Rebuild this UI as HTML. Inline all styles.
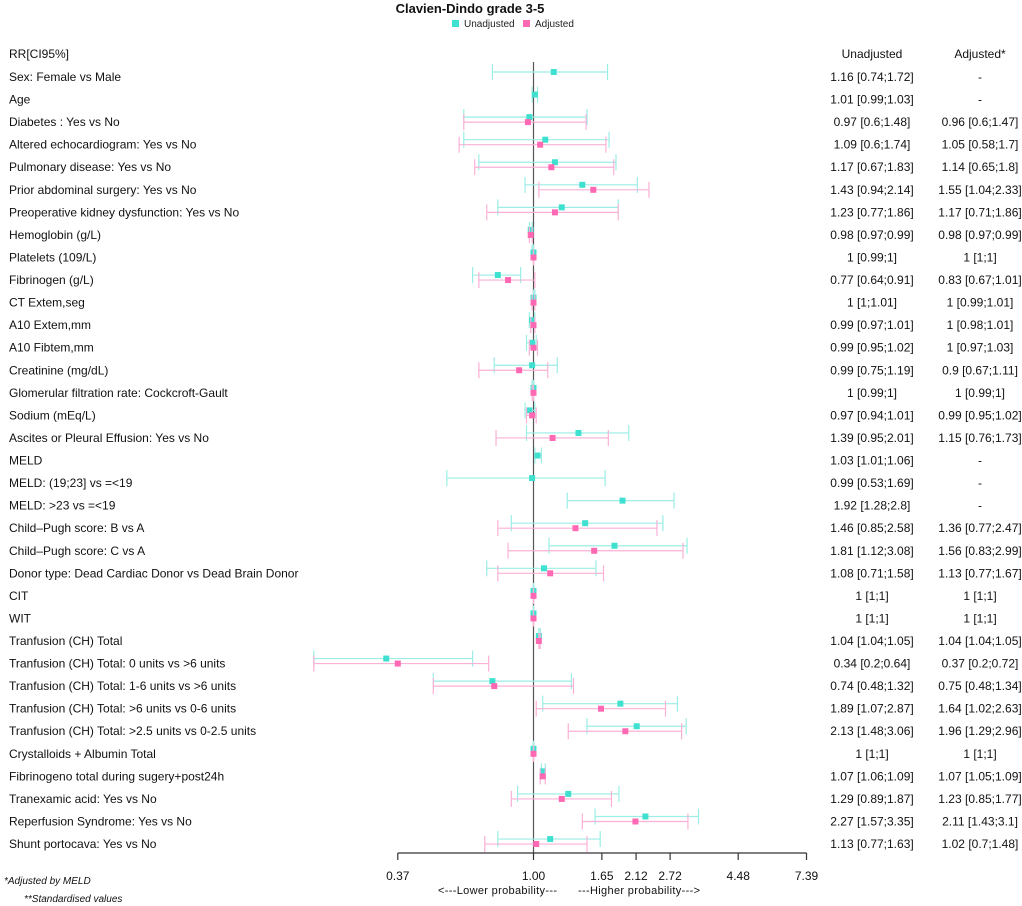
<!DOCTYPE html>
<html><head><meta charset="utf-8">
<style>
body{margin:0;background:#fff;}
svg{display:block;font-family:"Liberation Sans",Arial,sans-serif;}
</style></head>
<body>
<svg id="chart" width="1022" height="906" viewBox="0 0 1022 906">
<text x="470" y="13" text-anchor="middle" font-size="13" font-weight="bold" fill="#111">Clavien-Dindo grade 3-5</text>
<g>
<rect x="452" y="20" width="7" height="7" fill="#40E0D0"/>
<text x="464" y="27" font-size="10" fill="#222">Unadjusted</text>
<rect x="523" y="20" width="7" height="7" fill="#FF69B4"/>
<text x="535" y="27" font-size="10" fill="#222">Adjusted</text>
</g>
<text x="9" y="58" font-size="12" fill="#111">RR[CI95%]</text>
<text x="872" y="58" text-anchor="middle" font-size="12" fill="#111">Unadjusted</text>
<text x="980" y="58" text-anchor="middle" font-size="12" fill="#111">Adjusted*</text>
<line x1="533.5" y1="62" x2="533.5" y2="853" stroke="#555" stroke-width="1.2"/>
<g id="rows"></g>
<g id="axis"></g>
<text x="438" y="894" font-size="11" fill="#111" textLength="119">&lt;---Lower probability---</text>
<text x="578" y="894" font-size="11" fill="#111" textLength="122">---Higher probability---&gt;</text>
<text x="4" y="884" font-size="10" font-style="italic" fill="#111">*Adjusted by MELD</text>
<text x="24" y="902" font-size="10" font-style="italic" fill="#111">**Standardised values</text>
</svg>
<script>
const labels=["Sex: Female vs Male","Age","Diabetes : Yes vs No","Altered echocardiogram: Yes vs No","Pulmonary disease: Yes vs No","Prior abdominal surgery: Yes vs No","Preoperative kidney dysfunction: Yes vs No","Hemoglobin (g/L)","Platelets (109/L)","Fibrinogen (g/L)","CT Extem,seg","A10 Extem,mm","A10 Fibtem,mm","Creatinine (mg/dL)","Glomerular filtration rate: Cockcroft-Gault","Sodium (mEq/L)","Ascites or Pleural Effusion: Yes vs No","MELD","MELD: (19;23] vs =<19","MELD: >23 vs =<19","Child\u2013Pugh score: B vs A","Child\u2013Pugh score: C vs A","Donor type: Dead Cardiac Donor vs Dead Brain Donor","CIT","WIT","Tranfusion (CH) Total","Tranfusion (CH) Total: 0 units vs >6 units","Tranfusion (CH) Total: 1-6 units vs >6 units","Tranfusion (CH) Total: >6 units vs 0-6 units","Tranfusion (CH) Total: >2.5 units vs 0-2.5 units","Crystalloids + Albumin Total","Fibrinogeno total during sugery+post24h","Tranexamic acid: Yes vs No","Reperfusion Syndrome: Yes vs No","Shunt portocava: Yes vs No"];
const unEst=[1.16,1.01,0.97,1.09,1.17,1.43,1.23,0.98,1,0.77,1,0.99,0.99,0.99,1,0.97,1.39,1.03,0.99,1.92,1.46,1.81,1.08,1,1,1.04,0.34,0.74,1.89,2.13,1,1.07,1.29,2.27,1.13];
const unLo=[0.74,0.99,0.6,0.6,0.67,0.94,0.77,0.97,0.99,0.64,1,0.97,0.95,0.75,0.99,0.94,0.95,1.01,0.53,1.28,0.85,1.12,0.71,1,1,1.04,0.2,0.48,1.07,1.48,1,1.06,0.89,1.57,0.77];
const unHi=[1.72,1.03,1.48,1.74,1.83,2.14,1.86,0.99,1,0.91,1.01,1.01,1.02,1.19,1,1.01,2.01,1.06,1.69,2.8,2.58,3.08,1.58,1,1,1.05,0.64,1.32,2.87,3.06,1,1.09,1.87,3.35,1.63];
const unTxt=["1.16 [0.74;1.72]","1.01 [0.99;1.03]","0.97 [0.6;1.48]","1.09 [0.6;1.74]","1.17 [0.67;1.83]","1.43 [0.94;2.14]","1.23 [0.77;1.86]","0.98 [0.97;0.99]","1 [0.99;1]","0.77 [0.64;0.91]","1 [1;1.01]","0.99 [0.97;1.01]","0.99 [0.95;1.02]","0.99 [0.75;1.19]","1 [0.99;1]","0.97 [0.94;1.01]","1.39 [0.95;2.01]","1.03 [1.01;1.06]","0.99 [0.53;1.69]","1.92 [1.28;2.8]","1.46 [0.85;2.58]","1.81 [1.12;3.08]","1.08 [0.71;1.58]","1 [1;1]","1 [1;1]","1.04 [1.04;1.05]","0.34 [0.2;0.64]","0.74 [0.48;1.32]","1.89 [1.07;2.87]","2.13 [1.48;3.06]","1 [1;1]","1.07 [1.06;1.09]","1.29 [0.89;1.87]","2.27 [1.57;3.35]","1.13 [0.77;1.63]"];
const adEst=[null,null,0.96,1.05,1.14,1.55,1.17,0.98,1,0.83,1,1,1,0.9,1,0.99,1.15,null,null,null,1.36,1.56,1.13,1,1,1.04,0.37,0.75,1.64,1.96,1,1.07,1.23,2.11,1.02];
const adLo=[null,null,0.6,0.58,0.65,1.04,0.71,0.97,1,0.67,0.99,0.98,0.97,0.67,0.99,0.95,0.76,null,null,null,0.77,0.83,0.77,1,1,1.04,0.2,0.48,1.02,1.29,1,1.05,0.85,1.43,0.7];
const adHi=[null,null,1.47,1.7,1.8,2.33,1.86,0.99,1,1.01,1.01,1.01,1.03,1.11,1,1.02,1.73,null,null,null,2.47,2.99,1.67,1,1,1.05,0.72,1.34,2.63,2.96,1,1.09,1.77,3.1,1.48];
const adTxt=["-","-","0.96 [0.6;1.47]","1.05 [0.58;1.7]","1.14 [0.65;1.8]","1.55 [1.04;2.33]","1.17 [0.71;1.86]","0.98 [0.97;0.99]","1 [1;1]","0.83 [0.67;1.01]","1 [0.99;1.01]","1 [0.98;1.01]","1 [0.97;1.03]","0.9 [0.67;1.11]","1 [0.99;1]","0.99 [0.95;1.02]","1.15 [0.76;1.73]","-","-","-","1.36 [0.77;2.47]","1.56 [0.83;2.99]","1.13 [0.77;1.67]","1 [1;1]","1 [1;1]","1.04 [1.04;1.05]","0.37 [0.2;0.72]","0.75 [0.48;1.34]","1.64 [1.02;2.63]","1.96 [1.29;2.96]","1 [1;1]","1.07 [1.05;1.09]","1.23 [0.85;1.77]","2.11 [1.43;3.1]","1.02 [0.7;1.48]"];
const tickVals=[0.37,1,1.65,2.12,2.72,4.48,7.39];
const tickLabels=["0.37","1.00","1.65","2.12","2.72","4.48","7.39"];

const NS="http://www.w3.org/2000/svg";
const xS=v=>533.5+136.5*Math.log(v);
const yS=i=>81+i*22.56;
function mk(tag,attrs,parent){const e=document.createElementNS(NS,tag);for(const k in attrs)e.setAttribute(k,attrs[k]);parent.appendChild(e);return e;}
const rows=document.getElementById('rows');
labels.forEach((lab,i)=>{
  const y=yS(i);
  const g=mk('g',{},rows);
  
  
  const t=mk('text',{x:9,y:y,'font-size':12,fill:'#111'},g);t.textContent=lab;
  
  
  const u=mk('text',{x:872,y:y,'font-size':12,fill:'#111','text-anchor':'middle'},g);u.textContent=unTxt[i];
  
  
  const a=mk('text',{x:980,y:y,'font-size':12,fill:'#111','text-anchor':'middle'},g);a.textContent=adTxt[i];
  
  
  const series=[[unEst[i],unLo[i],unHi[i],y-9,'#40E0D0','#9BEDE5','unadjusted'],[adEst[i],adLo[i],adHi[i],y-4,'#FF69B4','#FBB0D6','adjusted']];
  series.forEach(([e,lo,hi,cy,col,lc,nm])=>{
    if(e==null)return;
    const sg=mk('g',{},g);
    
    
    mk('line',{x1:xS(lo),x2:xS(hi),y1:cy,y2:cy,stroke:lc,'stroke-width':1.2},sg);
    mk('line',{x1:xS(lo),x2:xS(lo),y1:cy-8,y2:cy+8,stroke:lc,'stroke-width':1.2},sg);
    mk('line',{x1:xS(hi),x2:xS(hi),y1:cy-8,y2:cy+8,stroke:lc,'stroke-width':1.2},sg);
    mk('rect',{x:xS(e)-3,y:cy-3,width:6,height:6,fill:col},sg);
  });
});
const ax=document.getElementById('axis');
mk('line',{x1:xS(0.37),x2:xS(7.39),y1:853,y2:853,stroke:'#333','stroke-width':1.2},ax);
tickVals.forEach((v,i)=>{
  const tk=mk('line',{x1:xS(v),x2:xS(v),y1:853,y2:860,stroke:'#333','stroke-width':1.2},ax);
  
  
  const tl=mk('text',{x:xS(v),y:880,'font-size':12,fill:'#111','text-anchor':'middle'},ax);tl.textContent=tickLabels[i];
  
  
});
</script>
</body></html>
